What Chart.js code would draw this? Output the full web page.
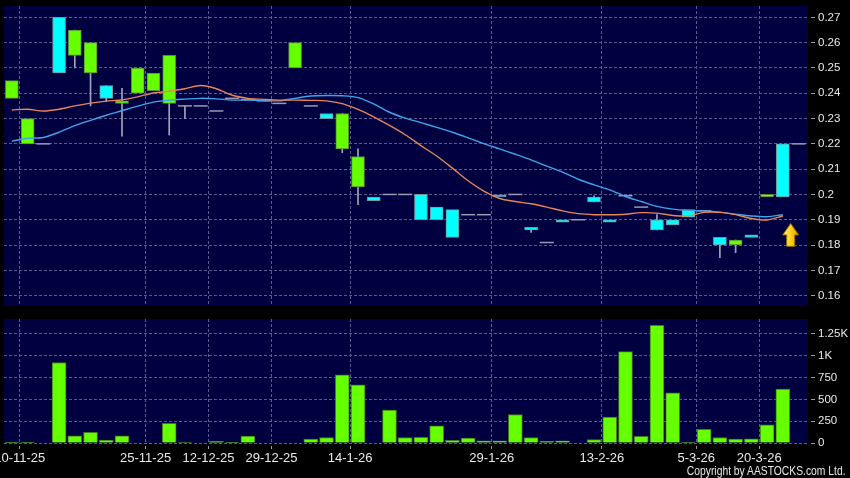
<!DOCTYPE html>
<html>
<head>
<meta charset="utf-8">
<script src="https://cdn.jsdelivr.net/npm/chart.js@4.4.1/dist/chart.umd.min.js"></script>
<style>
  html, body { margin: 0; padding: 0; background: #000; }
  #wrap { position: relative; width: 850px; height: 478px; overflow: hidden; background: #000; }
  #priceCanvas { position: absolute; left: 0; top: 0; }
  #volCanvas { position: absolute; left: 0; top: 312px; }
  #copy { position: absolute; right: 4px; top: 464px; font: 12px "Liberation Sans", Arial, sans-serif;
          color: #e6e6e6; transform: scaleX(0.86); transform-origin: right top; white-space: nowrap; }
</style>
</head>
<body>
<div id="wrap">
  <canvas id="priceCanvas" width="850" height="312"></canvas>
  <canvas id="volCanvas" width="850" height="166"></canvas>
  <div id="copy">Copyright by AASTOCKS.com Ltd.</div>
</div>
<script>
// candles, one per trading slot (index 0..50)
var opens = [
  0.245, 0.23, 0.22, 0.248, 0.265, 0.26, 0.238, 0.237, 0.25, 0.248,
  0.255, 0.235, 0.235, 0.233, 0.238, 0.2375, 0.237, 0.236, 0.26, 0.235,
  0.23, 0.232, 0.215, 0.1975, 0.2, 0.2, 0.19, 0.19, 0.183, 0.192,
  0.192, 0.199, 0.2, 0.186, 0.181, 0.189, 0.19, 0.197, 0.189, 0.1995,
  0.195, 0.186, 0.188, 0.191, 0.1935, 0.18, 0.182, 0.183, 0.2, 0.199, 0.22
];
var closes = [
  0.238, 0.22, 0.22, 0.27, 0.255, 0.248, 0.243, 0.236, 0.24, 0.241,
  0.236, 0.235, 0.235, 0.233, 0.238, 0.2375, 0.237, 0.236, 0.25, 0.235,
  0.232, 0.218, 0.203, 0.199, 0.2, 0.2, 0.2, 0.195, 0.194, 0.192,
  0.192, 0.1998, 0.2, 0.187, 0.181, 0.19, 0.19, 0.199, 0.19, 0.1995,
  0.195, 0.19, 0.19, 0.194, 0.1935, 0.183, 0.18, 0.184, 0.199, 0.22, 0.22
];
var highs = [
  0.245, 0.23, 0.22, 0.27, 0.265, 0.26, 0.243, 0.242, 0.25, 0.248,
  0.255, 0.235, 0.235, 0.233, 0.238, 0.2375, 0.237, 0.236, 0.26, 0.235,
  0.232, 0.232, 0.218, 0.199, 0.2, 0.2, 0.2, 0.195, 0.194, 0.192,
  0.192, 0.1998, 0.2, 0.187, 0.181, 0.19, 0.19, 0.1995, 0.19, 0.1995,
  0.195, 0.192, 0.19, 0.194, 0.1935, 0.183, 0.182, 0.184, 0.2, 0.22, 0.22
];
var lows = [
  0.238, 0.22, 0.22, 0.248, 0.25, 0.235, 0.2367, 0.223, 0.24, 0.241,
  0.2235, 0.23, 0.235, 0.233, 0.238, 0.2375, 0.237, 0.236, 0.25, 0.235,
  0.23, 0.2165, 0.196, 0.1975, 0.2, 0.2, 0.19, 0.19, 0.183, 0.192,
  0.192, 0.199, 0.2, 0.185, 0.181, 0.189, 0.19, 0.197, 0.189, 0.1995,
  0.195, 0.186, 0.188, 0.191, 0.1935, 0.175, 0.177, 0.183, 0.199, 0.199, 0.22
];
// moving averages (index 0..49)
var maOrange = [
  0.2334, 0.2337, 0.2330, 0.2337, 0.2350, 0.2361, 0.2369, 0.2374, 0.2386, 0.2401,
  0.2408, 0.2418, 0.2431, 0.2418, 0.2392, 0.2380, 0.2376, 0.2373, 0.2373, 0.2372,
  0.2370, 0.2359, 0.2336, 0.2307, 0.2273, 0.2236, 0.2193, 0.2152, 0.2104, 0.2054,
  0.2013, 0.1984, 0.1972, 0.1963, 0.1950, 0.1935, 0.1924, 0.1920, 0.1920, 0.1922,
  0.1928, 0.1926, 0.1917, 0.1915, 0.1929, 0.1929, 0.1920, 0.1905, 0.1899, 0.1915
];
var maBlue = [
  0.2210, 0.2222, 0.2225, 0.2246, 0.2272, 0.2293, 0.2313, 0.2331, 0.2349, 0.2365,
  0.2373, 0.2377, 0.2380, 0.2378, 0.2373, 0.2373, 0.2372, 0.2370, 0.2380, 0.2389,
  0.2391, 0.2390, 0.2383, 0.2358, 0.2325, 0.2302, 0.2284, 0.2265, 0.2246, 0.2224,
  0.2201, 0.2180, 0.2159, 0.2137, 0.2112, 0.2088, 0.2060, 0.2038, 0.2018, 0.1992,
  0.1972, 0.1953, 0.1942, 0.1937, 0.1935, 0.1930, 0.1922, 0.1915, 0.1912, 0.1920
];
var volumes = [
  10, 10, 0, 922, 83, 121, 34, 83, 0, 0,
  224, 5, 0, 18, 3, 80, 0, 0, 0, 46,
  61, 781, 667, 0, 377, 61, 64, 198, 30, 57,
  26, 26, 327, 61, 18, 26, 0, 38, 297, 1048,
  76, 1349, 575, 11, 156, 61, 46, 49, 209, 617, 0
];
var priceTicks = [0.16, 0.17, 0.18, 0.19, 0.2, 0.21, 0.22, 0.23, 0.24, 0.25, 0.26, 0.27];
var volTicks = [0, 250, 500, 750, 1000, 1250];
var volTickLabels = ['0', '250', '500', '750', '1K', '1.25K'];
var dateTickPos = [0.5, 8.5, 12.5, 16.5, 21.5, 30.5, 37.5, 43.5, 47.5];
var dateLabels = ['10-11-25', '25-11-25', '12-12-25', '29-12-25', '14-1-26', '29-1-26', '13-2-26', '5-3-26', '20-3-26'];
var arrowAt = { index: 49.5, tip: 0.1885, tail: 0.1795 };

Chart.defaults.font.family = '"Liberation Sans", Arial, sans-serif';
Chart.defaults.color = '#e8e8e8';

var NAVY = '#000040', GRID = '#5a5a8e', UP = '#00ffff', DOWN = '#66ff00';

// split candles into wicks, bodies and flat dojis
var bodies = [], bodyFill = [], bodyLine = [], dojis = [], wicks = [];
for (var i = 0; i < opens.length; i++) {
  var o = opens[i], c = closes[i];
  if (o === c) {
    dojis.push({ x: i, y: o });
  } else {
    bodies.push({ x: i, y: [o, c] });
    bodyFill.push(c > o ? UP : DOWN);
    bodyLine.push(c > o ? '#6f98a4' : '#5a8a3a');
  }
  if (highs[i] > Math.max(o, c) || lows[i] < Math.min(o, c))
    wicks.push({ x: i, y: [lows[i], highs[i]] });
}

var plotBg = {
  id: 'plotBg',
  beforeDraw: function(chart) {
    var a = chart.chartArea, ctx = chart.ctx;
    ctx.save();
    ctx.fillStyle = NAVY;
    ctx.fillRect(a.left, a.top, a.right - a.left, a.bottom - a.top);
    ctx.restore();
  }
};

var arrowMark = {
  id: 'arrowMark',
  afterDatasetsDraw: function(chart) {
    var ctx = chart.ctx, x = chart.scales.x, y = chart.scales.y;
    var cx = x.getPixelForValue(arrowAt.index);
    var top = y.getPixelForValue(arrowAt.tip);
    var bot = y.getPixelForValue(arrowAt.tail);
    var headH = (bot - top) * 0.5, hw = 8, sw = 4;
    ctx.save();
    var g = ctx.createLinearGradient(cx - hw, 0, cx + hw, 0);
    g.addColorStop(0, '#fff07a');
    g.addColorStop(0.5, '#ffd21a');
    g.addColorStop(1, '#e09400');
    ctx.beginPath();
    ctx.moveTo(cx, top);
    ctx.lineTo(cx + hw, top + headH);
    ctx.lineTo(cx + sw, top + headH);
    ctx.lineTo(cx + sw, bot);
    ctx.lineTo(cx - sw, bot);
    ctx.lineTo(cx - sw, top + headH);
    ctx.lineTo(cx - hw, top + headH);
    ctx.closePath();
    ctx.fillStyle = g;
    ctx.fill();
    ctx.strokeStyle = '#a06a00';
    ctx.lineWidth = 1;
    ctx.stroke();
    ctx.restore();
  }
};

function xScale(showLabels) {
  return {
    type: 'linear', min: -0.5, max: 50.6, offset: false,
    border: { display: false, dash: [3, 2] },
    grid: { color: GRID, offset: false, drawTicks: showLabels, tickLength: 6,
            tickColor: '#9a9aa8', tickBorderDash: [0, 3, 3, 20] },
    afterBuildTicks: function(s) { s.ticks = dateTickPos.map(function(v) { return { value: v }; }); },
    ticks: { display: showLabels, autoSkip: false, maxRotation: 0, padding: 2,
             font: { size: 13 }, color: '#e8e8e8',
             callback: function(v, k) { return dateLabels[k]; } },
    afterFit: function(s) {
      s.paddingLeft = 0; s.paddingRight = 0;
      s.height = showLabels ? 35 : 0;
    }
  };
}

function yGrid() {
  return { color: GRID, tickLength: 7, tickColor: '#9a9aa8', tickBorderDash: [0, 3, 4, 20] };
}

new Chart(document.getElementById('priceCanvas'), {
  type: 'bar',
  data: {
    datasets: [
      { type: 'line', borderColor: '#e8845a', borderWidth: 1.4,
        pointRadius: 0, tension: 0.3, order: 0,
        data: maOrange.map(function(v, k) { return { x: k, y: v }; }) },
      { type: 'line', borderColor: '#3fa4e8', borderWidth: 1.4,
        pointRadius: 0, tension: 0.3, order: 0,
        data: maBlue.map(function(v, k) { return { x: k, y: v }; }) },
      { type: 'line', data: dojis, showLine: false, pointStyle: 'line', pointRadius: 7,
        pointBorderColor: '#9a9ab4', pointBorderWidth: 1.5, order: 1 },
      { data: bodies, backgroundColor: bodyFill, borderColor: bodyLine, borderWidth: 1,
        borderSkipped: false, barThickness: 13, grouped: false, order: 2 },
      { data: wicks, backgroundColor: '#a4a4b8', borderWidth: 0,
        barThickness: 1, grouped: false, order: 3 }
    ]
  },
  options: {
    responsive: false, animation: false, events: [],
    layout: { autoPadding: false, padding: { left: 4, top: 6, right: 0, bottom: 6 } },
    plugins: { legend: { display: false }, tooltip: { enabled: false } },
    scales: {
      x: xScale(false),
      y: {
        position: 'right', min: 0.1559, max: 0.2745,
        border: { display: false, dash: [3, 2] },
        grid: yGrid(),
        afterBuildTicks: function(s) { s.ticks = priceTicks.map(function(v) { return { value: v }; }); },
        ticks: { padding: 3, font: { size: 11.5 }, color: '#e8e8e8',
                 callback: function(v) { return String(+v.toFixed(2)); } },
        afterFit: function(s) { s.width = 42; s.paddingTop = 0; s.paddingBottom = 0; }
      }
    }
  },
  plugins: [plotBg, arrowMark]
});

var volData = [];
volumes.forEach(function(v, k) { if (v > 0) volData.push({ x: k, y: v }); });

new Chart(document.getElementById('volCanvas'), {
  type: 'bar',
  data: {
    datasets: [
      { data: volData, backgroundColor: DOWN, borderColor: '#3f7a1c', borderWidth: 1,
        barThickness: 14, grouped: false }
    ]
  },
  options: {
    responsive: false, animation: false, events: [],
    layout: { autoPadding: false, padding: { left: 4, top: 7, right: 0, bottom: 0 } },
    plugins: { legend: { display: false }, tooltip: { enabled: false } },
    scales: {
      x: xScale(true),
      y: {
        position: 'right', min: 0, max: 1421,
        border: { display: false, dash: [3, 2] },
        grid: yGrid(),
        afterBuildTicks: function(s) { s.ticks = volTicks.map(function(v) { return { value: v }; }); },
        ticks: { padding: 3, font: { size: 11.5 }, color: '#e8e8e8',
                 callback: function(v, k) { return volTickLabels[k]; } },
        afterFit: function(s) { s.width = 42; s.paddingTop = 0; s.paddingBottom = 0; }
      }
    }
  },
  plugins: [plotBg]
});
</script>
</body>
</html>
